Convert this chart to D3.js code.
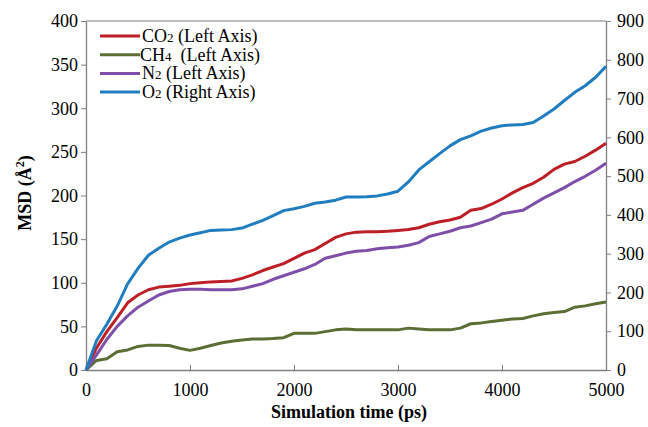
<!DOCTYPE html>
<html><head><meta charset="utf-8">
<script src="https://cdn.jsdelivr.net/npm/d3@7"></script>
<style>
body{margin:0;background:#fff;}
svg text{font-family:"Liberation Serif","DejaVu Serif","Times New Roman",Times,serif !important;}
</style></head>
<body><svg id="c" width="648" height="427"></svg>
<script>
const time = d3.range(0, 5001, 100);
const co2 = [0,25,44,60,77,86,92,95,96,97,99,100,101,101.5,102,105,109,114,118,122,128,134,138,145,152,156,158,158.5,158.5,159,160,161,163,167,170,172,175,183,185,190,196,203,209,214,221,230,236,239,245,252,260];
const ch4 = [0,11,13,21,23,27,28.5,28.5,28,25,22.5,25,28,31,33,34.5,35.5,35.6,36,37,42,42,42,44,46,47,46,46,46,46,46,48,47,46,46,46,48,53,54,55.5,57,58.5,59,62,64.5,66,67,72,73.5,76,78];
const n2 = [0,17,35,50,62,72,79,86,90,92,92.5,92.5,92,92,92,93,96,99,104,108,112,116,121,128,131,134,136,137,139,140,141,143,146,153,156,159,163,165,169,173,179,181,183,190,197,203,209,216,222,229,237];
const o2 = [0,75,118,165,222,262,296,314,330,340,348,354,360,361,362,366,376,386,398,411,416,422,430,433,438,446,446,447,449,454,461,485,516,537,558,578,594,604,616,624,630,632,633,638,655,673,695,716,733,755,783];
const xTicks = [0,1000,2000,3000,4000,5000];
const yLeftTicks = [0,50,100,150,200,250,300,350,400];
const yRightTicks = [0,100,200,300,400,500,600,700,800,900];
const seriesNames = ["CO","CH","N","O"];
const seriesSubs = ["2","4","2","2"];
const seriesAxis = [" (Left Axis)","  (Left Axis)"," (Left Axis)"," (Right Axis)"];
const colors = ["#bd1f26","#5b6e35","#7e4ea8","#1f7dc0"];

const svg = d3.select("#c");
svg.append("rect").attr("width",648).attr("height",427).attr("fill","#fff");
const L=86,R=606,T=21,B=370;
const x = d3.scaleLinear().domain([0,5000]).range([L,R]);
const yL = d3.scaleLinear().domain([0,400]).range([B,T]);
const yR = d3.scaleLinear().domain([0,900]).range([B,T]);
const axisCol="#7f7f7f";

svg.append("line").attr("x1",L).attr("x2",R).attr("y1",T).attr("y2",T).attr("stroke",axisCol).attr("stroke-width",1);

function styleAxis(g){
  g.attr("font-family",null);
  g.selectAll("path.domain").attr("stroke",axisCol).attr("stroke-width",1.3);
  g.selectAll(".tick line").attr("stroke",axisCol).attr("stroke-width",1);
  g.selectAll("text").attr("fill","#000").attr("font-size",18);
}
const gx = svg.append("g").attr("transform",`translate(0,${B})`)
  .call(d3.axisBottom(x).tickValues(xTicks).tickFormat(d3.format("d")).tickSizeInner(-5).tickSizeOuter(0).tickPadding(13));
styleAxis(gx);
const gl = svg.append("g").attr("transform",`translate(${L},0)`)
  .call(d3.axisLeft(yL).tickValues(yLeftTicks).tickSizeInner(5).tickSizeOuter(0).tickPadding(3));
styleAxis(gl);
const gr = svg.append("g").attr("transform",`translate(${R},0)`)
  .call(d3.axisRight(yR).tickValues(yRightTicks).tickSizeInner(5).tickSizeOuter(0).tickPadding(6));
styleAxis(gr);

const data = [co2,ch4,n2,o2];
const scales = [yL,yL,yL,yR];
data.forEach((vals,i)=>{
  const line = d3.line().x((d,j)=>x(time[j])).y(d=>scales[i](d));
  svg.append("path").datum(vals).attr("d",line).attr("fill","none")
    .attr("stroke",colors[i]).attr("stroke-width",3).attr("stroke-linejoin","round");
});

const lg = svg.append("g");
seriesNames.forEach((n,i)=>{
  const yy = 36 + i*18.7;
  lg.append("line").attr("x1",100).attr("x2",140).attr("y1",yy).attr("y2",yy)
    .attr("stroke",colors[i]).attr("stroke-width",3);
  const t = lg.append("text").attr("x", i===1?140:142).attr("y",yy+6)
    .attr("font-size",18).attr("fill","#000").style("white-space","pre");
  t.append("tspan").text(n);
  t.append("tspan").attr("font-size",13).text(seriesSubs[i]);
  t.append("tspan").text(seriesAxis[i]);
});

svg.append("text").attr("x",(L+R)/2+3).attr("y",418).attr("text-anchor","middle")
  .attr("font-weight","bold").attr("font-size",18).text("Simulation time (ps)");
const yt = svg.append("text").attr("transform","translate(31,193) rotate(-90)").attr("text-anchor","middle")
  .attr("font-weight","bold").attr("font-size",18);
yt.append("tspan").text("MSD (Å");
yt.append("tspan").attr("font-size",12).attr("dy",-7).text("2");
yt.append("tspan").attr("dy",7).text(")");
</script></body></html>
